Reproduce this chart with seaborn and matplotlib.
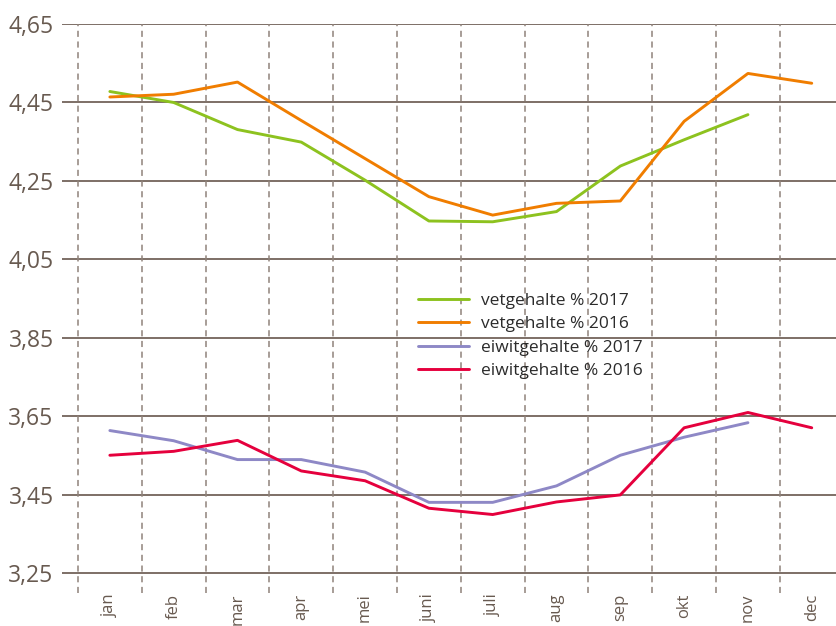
"""Vet- en eiwitgehalte per maand, 2016 vs 2017."""

import numpy as np
import pandas as pd
import matplotlib
matplotlib.use("Agg")
import matplotlib.pyplot as plt
import seaborn as sns

# data
months = ["jan", "feb", "mar", "apr", "mei", "juni", "juli", "aug", "sep", "okt", "nov", "dec"]
vet_2017 = [4.478, 4.450, 4.381, 4.349, 4.252, 4.148, 4.146, 4.172, 4.288, 4.355, 4.419, np.nan]
vet_2016 = [4.464, 4.471, 4.502, 4.404, 4.307, 4.210, 4.163, 4.193, 4.199, 4.402, 4.524, 4.499]
eiwit_2017 = [3.614, 3.588, 3.540, 3.540, 3.508, 3.431, 3.431, 3.473, 3.551, 3.597, 3.634, np.nan]
eiwit_2016 = [3.551, 3.561, 3.589, 3.511, 3.486, 3.416, 3.400, 3.432, 3.450, 3.621, 3.660, 3.621]
series_names = ["vetgehalte % 2017", "vetgehalte % 2016", "eiwitgehalte % 2017", "eiwitgehalte % 2016"]
yticks = [3.25, 3.45, 3.65, 3.85, 4.05, 4.25, 4.45, 4.65]

colors = ["#8dc21f", "#f07d00", "#8e88c6", "#e5003d"]
grid_col = "#7d6f66"
text_col = "#685a50"

rows = []
for name, vals in zip(series_names, [vet_2017, vet_2016, eiwit_2017, eiwit_2016]):
    for i, v in enumerate(vals):
        rows.append({"maand": i, "waarde": v, "reeks": name})
df = pd.DataFrame(rows).dropna()

sns.set_style("white")
plt.rcParams["font.family"] = ["Open Sans", "DejaVu Sans"]

fig = plt.figure(figsize=(8.36, 6.26), dpi=100)
ax = fig.add_axes([62 / 836, 33 / 626, 774 / 836, 569 / 626])

sns.lineplot(data=df, x="maand", y="waarde", hue="reeks", hue_order=series_names,
             palette=colors, linewidth=2.1, ax=ax, sort=False)

ax.set_xlim(-0.75, 11.38)
ax.set_ylim(3.20, 4.65)

# horizontal solid grid at the tick values
for yv in yticks:
    ax.axhline(yv, color=grid_col, linewidth=1.4, zorder=0)
# dashed separators between months
for i in range(len(months)):
    ax.axvline(i - 0.5, color="#8f827a", linewidth=1.1, linestyle=(0, (4, 3)), zorder=0)

ax.set_yticks(yticks)
ax.set_yticklabels([f"{v:.2f}".replace(".", ",") for v in yticks], fontsize=16.5, color=text_col)
ax.set_xticks(range(len(months)))
ax.set_xticklabels(months, rotation=90, fontsize=12, color=text_col, va="top")
ax.tick_params(axis="y", length=0, pad=6)
ax.tick_params(axis="x", length=0, pad=0.5)
ax.set_xlabel("")
ax.set_ylabel("")
for s in ax.spines.values():
    s.set_visible(False)

leg = ax.legend(loc="upper left", bbox_to_anchor=(0.44, 0.555), frameon=False,
                fontsize=12.5, handlelength=2.9, handletextpad=0.7, labelspacing=0.42)
for t in leg.get_texts():
    t.set_color("#2b2b2b")

fig.savefig("out.png", dpi=100)
